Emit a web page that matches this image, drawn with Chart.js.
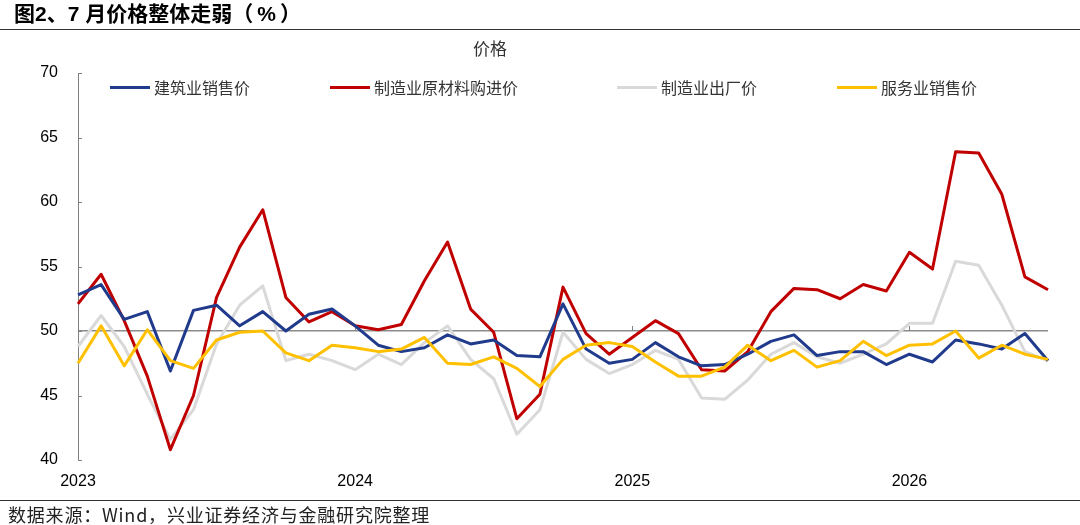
<!DOCTYPE html>
<html>
<head>
<meta charset="utf-8">
<script src="https://cdn.jsdelivr.net/npm/chart.js@4/dist/chart.umd.min.js"></script>
<style>
  body { margin: 0; background: #fff; font-family: "Liberation Sans", "Noto Sans CJK SC", sans-serif; }
  #wrap { position: relative; width: 1080px; height: 525px; overflow: hidden; }
  #chart { position: absolute; left: 0; top: 0; }
  .title { position: absolute; left: 14px; top: -3px; font-size: 21px; font-weight: bold; color: #000;
           font-family: "Liberation Sans", "Noto Sans CJK SC", sans-serif; }
  .title .pct { margin: 0 4px; }
  .rule { position: absolute; left: 0; width: 1080px; height: 1px; background: #333; }
  .unit { position: absolute; left: 473px; top: 35px; font-size: 17px; color: #333; font-family: "Noto Sans CJK SC", sans-serif; }
  .legend-item { position: absolute; top: 75px; display: flex; align-items: center; font-size: 16px; color: #333;
                 font-family: "Noto Sans CJK SC", sans-serif; }
  .legend-item span.swatch { display: inline-block; width: 40px; height: 3px; margin-right: 4px; }
  .source { position: absolute; left: 8px; top: 501px; font-size: 18px; letter-spacing: 0.8px; color: #222;
            font-family: "Noto Sans CJK SC", sans-serif; }
</style>
</head>
<body>
<div id="wrap">
  <canvas id="chart" width="1080" height="525"></canvas>
  <div class="title">图2、7 月价格整体走弱（<span class="pct">%</span>）</div>
  <div class="rule" style="top:29px"></div>
  <div class="unit">价格</div>
  <div id="legend"></div>
  <div class="rule" style="top:500px"></div>
  <div class="source">数据来源：Wind，兴业证券经济与金融研究院整理</div>
</div>
<script>
// 月份 2023-01 ~ 2026-07
const months = [];
for (let y = 2023; y <= 2026; y++) {
    for (let m = 1; m <= 12; m++) {
        if (y === 2026 && m > 7) break;
        months.push(y + '-' + String(m).padStart(2, '0'));
    }
}

const seriesNames = ['建筑业销售价', '制造业原材料购进价', '制造业出厂价', '服务业销售价'];
const seriesColors = ['#203a8c', '#c00000', '#d9d9d9', '#ffc000'];

const jianzhu = [52.8, 53.6, 50.9, 51.5, 46.9, 51.6, 52.0, 50.4, 51.5, 50.0, 51.3, 51.7,
                 50.4, 48.9, 48.4, 48.7, 49.7, 49.0, 49.3, 48.1, 48.0, 52.1, 48.6, 47.5,
                 47.8, 49.1, 48.0, 47.3, 47.4, 48.2, 49.2, 49.7, 48.1, 48.4, 48.4, 47.4,
                 48.2, 47.6, 49.3, 49.0, 48.6, 49.8, 47.7];
const yuancailiao = [52.1, 54.4, 50.8, 46.5, 40.8, 45.0, 52.6, 56.5, 59.4, 52.6, 50.7, 51.5,
                     50.4, 50.1, 50.5, 53.9, 56.9, 51.7, 49.9, 43.2, 45.1, 53.4, 49.8, 48.2,
                     49.5, 50.8, 49.8, 47.0, 46.9, 48.4, 51.5, 53.3, 53.2, 52.5, 53.6, 53.1,
                     56.1, 54.8, 63.9, 63.8, 60.6, 54.2, 53.2];
const chuchang = [48.8, 51.2, 48.8, 45.1, 41.6, 43.9, 49.0, 52.0, 53.5, 47.7, 48.2, 47.7,
                  47.0, 48.2, 47.4, 49.1, 50.4, 47.8, 46.3, 42.0, 43.9, 49.9, 47.8, 46.7,
                  47.4, 48.5, 47.8, 44.8, 44.7, 46.2, 48.2, 49.1, 48.0, 47.5, 48.2, 49.0,
                  50.6, 50.6, 55.4, 55.1, 52.0, 48.4, 47.7];
const fuwu = [47.5, 50.4, 47.3, 50.1, 47.7, 47.1, 49.3, 49.9, 50.0, 48.3, 47.7, 48.9,
              48.7, 48.4, 48.6, 49.5, 47.5, 47.4, 48.0, 47.1, 45.7, 47.8, 48.9, 49.1,
              48.8, 47.6, 46.5, 46.5, 47.2, 48.9, 47.7, 48.5, 47.2, 47.7, 49.2, 48.1,
              48.9, 49.0, 50.0, 47.9, 48.9, 48.2, 47.8];

const seriesData = [jianzhu, yuancailiao, chuchang, fuwu];
const drawOrder = [1, 2, 3, 0]; // 越小越靠上，服务业在最上层

// 图例（放在绘图区里面）
const legendX = [110, 330, 617, 837];
const legendBox = document.getElementById('legend');
seriesNames.forEach((name, i) => {
    const item = document.createElement('div');
    item.className = 'legend-item';
    item.style.left = legendX[i] + 'px';
    item.innerHTML = '<span class="swatch" style="background:' + seriesColors[i] + '"></span>' + name;
    legendBox.appendChild(item);
});

// 内侧刻度线 + 50 线上的年份刻度
const tickMarks = {
    id: 'tickMarks',
    beforeDatasetsDraw(chart) {
        const ctx = chart.ctx;
        const x = chart.scales.x, y = chart.scales.y;
        ctx.save();
        ctx.strokeStyle = '#808080';
        ctx.lineWidth = 1;
        ctx.beginPath();
        y.ticks.forEach(t => {
            const py = Math.round(y.getPixelForValue(t.value)) + 0.5;
            ctx.moveTo(x.left, py);
            ctx.lineTo(x.left + 4, py);
        });
        const y50 = y.getPixelForValue(50);
        months.forEach((m, i) => {
            if (m.endsWith('-01') && i > 0) {
                const px = Math.round(x.getPixelForValue(i)) + 0.5;
                ctx.moveTo(px, y50);
                ctx.lineTo(px, y50 - 5);
            }
        });
        ctx.stroke();
        ctx.restore();
    }
};

new Chart(document.getElementById('chart'), {
    type: 'line',
    data: {
        labels: months,
        datasets: seriesNames.map((name, i) => ({
            label: name,
            data: seriesData[i],
            borderColor: seriesColors[i],
            backgroundColor: seriesColors[i],
            borderWidth: 3,
            pointRadius: 0,
            tension: 0,
            borderJoinStyle: 'round',
            order: drawOrder[i]
        }))
    },
    options: {
        responsive: false,
        animation: false,
        layout: { padding: { left: 0, right: 32, top: 73, bottom: 35 } },
        plugins: {
            legend: { display: false },
            tooltip: { enabled: false }
        },
        scales: {
            x: {
                offset: false,
                grid: { display: false },
                border: { display: false },
                ticks: {
                    autoSkip: false,
                    maxRotation: 0,
                    padding: 4,
                    color: '#000',
                    font: { size: 16, family: 'Liberation Sans' },
                    callback: function (v, i) {
                        const m = months[i];
                        return m.endsWith('-01') ? m.slice(0, 4) : '';
                    }
                },
                afterFit(scale) { scale.height = 30; }
            },
            y: {
                min: 40,
                max: 70,
                ticks: {
                    stepSize: 5,
                    padding: 20,
                    color: '#000',
                    font: { size: 16, family: 'Liberation Sans' }
                },
                grid: {
                    drawTicks: false,
                    color: ctx => (ctx.tick && ctx.tick.value === 50 ? '#8c8c8c' : 'rgba(0,0,0,0)'),
                    lineWidth: 1.5
                },
                border: { display: true, color: '#808080', width: 1 },
                afterFit(scale) { scale.width = 78; }
            }
        }
    },
    plugins: [tickMarks]
});
</script>
</body>
</html>
